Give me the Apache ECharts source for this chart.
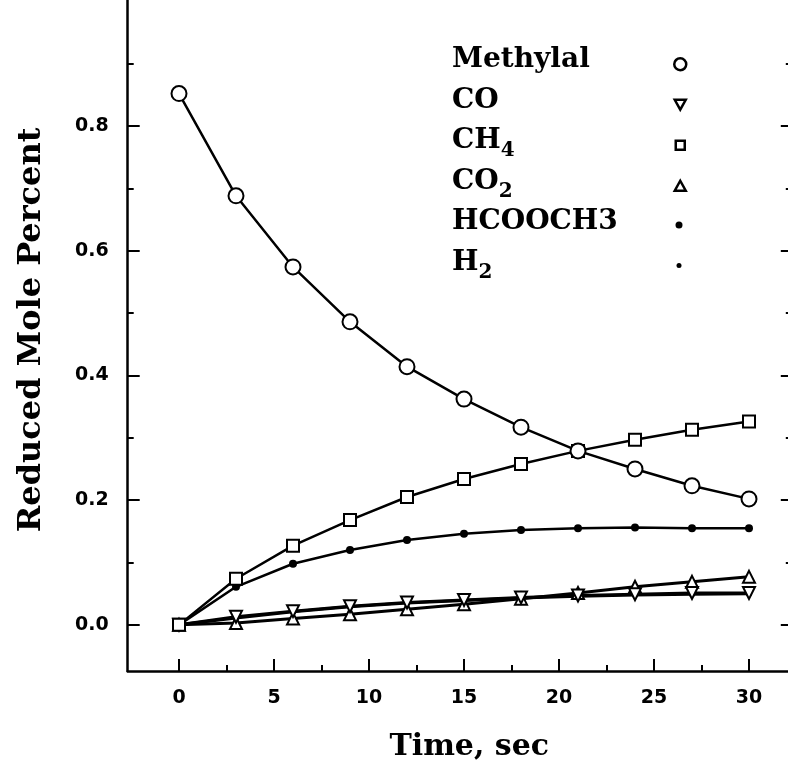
<!DOCTYPE html>
<html>
<head>
<meta charset="utf-8">
<script src="https://cdn.jsdelivr.net/npm/echarts@6/dist/echarts.min.js"></script>
<style>
  html, body { margin: 0; padding: 0; background: #fff; }
  #chart { width: 788px; height: 764px; }
</style>
</head>
<body>
<div id="chart"></div>
<script>
// Sampling times (sec)
const times = [0, 3, 6, 9, 12, 15, 18, 21, 24, 27, 30];

// Reduced mole percent for each species
const methylal = [0.852, 0.688, 0.574, 0.486, 0.414, 0.362, 0.317, 0.279, 0.250, 0.223, 0.202];
const co       = [0, 0.013, 0.022, 0.030, 0.036, 0.040, 0.044, 0.047, 0.049, 0.051, 0.051];
const ch4      = [0, 0.074, 0.127, 0.168, 0.205, 0.234, 0.258, 0.279, 0.297, 0.313, 0.326];
const co2      = [0, 0.003, 0.010, 0.017, 0.025, 0.033, 0.042, 0.051, 0.061, 0.069, 0.077];
const hcooch3  = [0, 0.061, 0.098, 0.120, 0.136, 0.146, 0.152, 0.155, 0.156, 0.155, 0.155];
const h2       = [0, 0.011, 0.021, 0.029, 0.035, 0.039, 0.043, 0.046, 0.048, 0.049, 0.050];

// Tick positions
const xMajorTicks = [0, 5, 10, 15, 20, 25, 30];
const xMinorTicks = [2.5, 7.5, 12.5, 17.5, 22.5, 27.5];
const yMajorTicks = [0, 0.2, 0.4, 0.6, 0.8];
const yMinorTicks = [0.1, 0.3, 0.5, 0.7, 0.9];

// Legend labels (rich text, with subscripts)
const legendLabels = {
  'Methylal': 'Methylal',
  'CO': 'CO',
  'CH4': 'CH{s|4}',
  'CO2': 'CO{s|2}',
  'HCOOCH3': 'HCOOCH3',
  'H2': 'H{s|2}'
};

const pairs = (ys) => times.map((t, i) => [t, ys[i]]);

const X_MIN = -2.7, X_MAX = 32.2;
const Y_MIN = -0.074, Y_MAX = 1.02;

const tickFont = { fontFamily: 'DejaVu Sans', fontSize: 19, fontWeight: 'bold', color: '#000' };
const serifFont = 'DejaVu Serif';

const chart = echarts.init(document.getElementById('chart'), null, { renderer: 'canvas' });

function xAx(extra) {
  return Object.assign({
    type: 'value', min: X_MIN, max: X_MAX, gridIndex: 0,
    splitLine: { show: false },
    axisLine: { show: false, onZero: false },
    axisTick: { show: false },
    axisLabel: { show: false }
  }, extra);
}
function yAx(extra) {
  return Object.assign({
    type: 'value', min: Y_MIN, max: Y_MAX, gridIndex: 0,
    splitLine: { show: false },
    axisLine: { show: false, onZero: false },
    axisTick: { show: false },
    axisLabel: { show: false }
  }, extra);
}

// legend: one text block and one marker block per species
const legendItems = [
  { name: 'Methylal', icon: 'path://M10,0 A10,10 0 1 1 9.99,0 Z', w: 12, h: 12, bw: 2.5, fill: '#fff' },
  { name: 'CO',       icon: 'path://M0,0 L10,0 L5,9 Z', w: 11, h: 10, bw: 2.5, fill: '#fff' },
  { name: 'CH4',      icon: 'path://M0,0 L10,0 L10,10 L0,10 Z', w: 9, h: 9, bw: 2.5, fill: '#fff' },
  { name: 'CO2',      icon: 'path://M5,0 L10,9 L0,9 Z', w: 11, h: 10, bw: 2.5, fill: '#fff' },
  { name: 'HCOOCH3',  icon: 'circle', w: 7, h: 7, bw: 0, fill: '#000' },
  { name: 'H2',       icon: 'circle', w: 5, h: 5, bw: 0, fill: '#000' }
];
const legendTop0 = 41, legendStep = 40.5, textLeft = 452, markerCenter = 674;

const textLegends = legendItems.map((d, i) => ({
  show: true,
  left: textLeft - 10,
  top: legendTop0 + i * legendStep,
  itemWidth: 0,
  itemHeight: 0,
  selectedMode: false,
  data: [{ name: d.name, icon: 'circle', itemStyle: { opacity: 0 } }],
  formatter: (n) => legendLabels[n],
  textStyle: {
    fontFamily: serifFont,
    fontSize: 28,
    fontWeight: 'bold',
    color: '#000',
    rich: {
      s: { fontFamily: serifFont, fontSize: 20, fontWeight: 'bold', color: '#000', padding: [20, 0, 0, 0] }
    }
  }
}));

const markerLegends = legendItems.map((d, i) => ({
  show: true,
  left: markerCenter - d.w / 2,
  top: legendTop0 + i * legendStep + 17 - d.h / 2,
  itemWidth: d.w,
  itemHeight: d.h,
  selectedMode: false,
  data: [{
    name: d.name,
    icon: d.icon,
    itemStyle: { color: d.fill, borderColor: '#000', borderWidth: d.bw }
  }],
  formatter: () => ' ',
  textStyle: { fontSize: 1, color: 'rgba(0,0,0,0)' }
}));

const option = {
  backgroundColor: '#fff',
  animation: false,
  legend: textLegends.concat(markerLegends),
  grid: {
    left: 127.7, right: -2.8, top: -11.2, bottom: 93,
    containLabel: false, outerBoundsMode: 'none'
  },
  xAxis: [
    xAx({
      position: 'bottom',
      name: 'Time, sec',
      nameLocation: 'middle',
      nameGap: 61,
      nameTextStyle: { fontFamily: serifFont, fontSize: 30, fontWeight: 'bold', color: '#000', padding: [0, 0, 0, 20] },
      axisLine: { show: true, onZero: false, lineStyle: { color: '#000', width: 2.5 } },
      axisTick: { show: true, inside: true, length: 12, customValues: xMajorTicks, lineStyle: { color: '#000', width: 2 } },
      axisLabel: { show: true, margin: 18, customValues: xMajorTicks, ...tickFont }
    }),
    xAx({
      position: 'bottom',
      axisTick: { show: true, inside: true, length: 6, customValues: xMinorTicks, lineStyle: { color: '#000', width: 2 } }
    })
  ],
  yAxis: [
    yAx({
      position: 'left',
      name: 'Reduced Mole Percent',
      nameLocation: 'middle',
      nameGap: 80,
      nameTextStyle: { fontFamily: serifFont, fontSize: 32, fontWeight: 'bold', color: '#000' },
      axisLine: { show: true, onZero: false, lineStyle: { color: '#000', width: 2.5 } },
      axisTick: { show: true, inside: true, length: 12, customValues: yMajorTicks, lineStyle: { color: '#000', width: 2 } },
      axisLabel: {
        show: true, margin: 19, customValues: yMajorTicks, ...tickFont,
        formatter: (v) => v.toFixed(1)
      }
    }),
    yAx({
      position: 'left',
      axisTick: { show: true, inside: true, length: 6, customValues: yMinorTicks, lineStyle: { color: '#000', width: 2 } }
    }),
    yAx({
      position: 'right',
      axisLine: { show: true, onZero: false, lineStyle: { color: '#000', width: 2.5 } },
      axisTick: { show: true, inside: true, length: 10, customValues: yMajorTicks, lineStyle: { color: '#000', width: 2 } }
    }),
    yAx({
      position: 'right',
      axisTick: { show: true, inside: true, length: 5, customValues: yMinorTicks, lineStyle: { color: '#000', width: 2 } }
    })
  ],
  series: [
    {
      name: 'CO2', type: 'line', data: pairs(co2),
      symbol: 'emptyTriangle', symbolSize: 12,
      lineStyle: { color: '#000', width: 3 },
      itemStyle: { color: '#000', borderWidth: 2.5 }
    },
    {
      name: 'H2', type: 'line', data: pairs(h2),
      symbol: 'circle', symbolSize: 6,
      lineStyle: { color: '#000', width: 3 },
      itemStyle: { color: '#000' }
    },
    {
      name: 'CO', type: 'line', data: pairs(co),
      symbol: 'emptyTriangle', symbolRotate: 180, symbolSize: 12,
      lineStyle: { color: '#000', width: 3 },
      itemStyle: { color: '#000', borderWidth: 2.5 }
    },
    {
      name: 'HCOOCH3', type: 'line', data: pairs(hcooch3),
      symbol: 'circle', symbolSize: 8,
      lineStyle: { color: '#000', width: 2.5 },
      itemStyle: { color: '#000' }
    },
    {
      name: 'CH4', type: 'line', data: pairs(ch4),
      symbol: 'emptyRect', symbolSize: 12,
      lineStyle: { color: '#000', width: 2.5 },
      itemStyle: { color: '#000', borderWidth: 2.5 }
    },
    {
      name: 'Methylal', type: 'line', data: pairs(methylal),
      symbol: 'emptyCircle', symbolSize: 15,
      lineStyle: { color: '#000', width: 2.5 },
      itemStyle: { color: '#000', borderWidth: 3 }
    }
  ]
};

chart.setOption(option);
</script>
</body>
</html>
